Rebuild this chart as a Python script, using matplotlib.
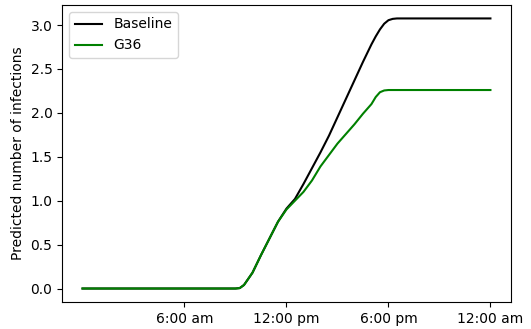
import matplotlib
matplotlib.use("Agg")
import matplotlib.pyplot as plt

hours = [0, 9.0, 9.25, 9.5, 10, 10.5, 11, 11.5, 12, 12.5, 13, 13.5, 14, 14.5,
         15, 15.5, 16, 16.5, 17, 17.25, 17.5, 17.75, 18, 18.25, 18.5, 24]
baseline = [0, 0, 0.005, 0.04, 0.18, 0.38, 0.57, 0.76, 0.91, 1.02, 1.19, 1.37,
            1.55, 1.74, 1.95, 2.16, 2.37, 2.58, 2.78, 2.87, 2.95, 3.015, 3.055,
            3.07, 3.075, 3.075]
g36 = [0, 0, 0.005, 0.04, 0.18, 0.38, 0.57, 0.76, 0.90, 1.00, 1.10, 1.23,
       1.39, 1.52, 1.65, 1.76, 1.87, 1.99, 2.10, 2.18, 2.235, 2.255, 2.26,
       2.26, 2.26, 2.26]
tick_pos = [6, 12, 18, 24]
tick_labels = ["6:00 am", "12:00 pm", "6:00 pm", "12:00 am"]

fig = plt.figure(figsize=(5.31, 3.29), dpi=100)
ax = fig.add_axes([0.117, 0.082, 0.845, 0.903])
ax.plot(hours, baseline, color="black", label="Baseline", lw=1.5)
ax.plot(hours, g36, color="green", label="G36", lw=1.5)
ax.set_xticks(tick_pos)
ax.set_xticklabels(tick_labels)
ax.set_ylabel("Predicted number of infections")
ax.legend(loc="upper left")
fig.savefig("out.png", dpi=100)
